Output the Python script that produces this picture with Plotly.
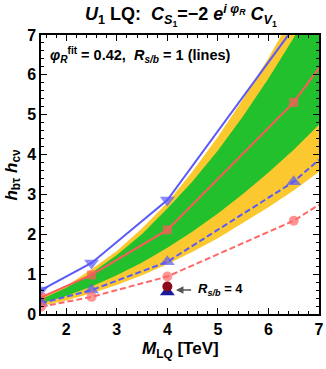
import plotly.graph_objects as go

# ---- data ----
M_band = [1.5, 2, 2.5, 3, 3.5, 4, 4.5, 5, 5.5, 6, 6.5, 7]
yellow_hi = [0.40, 0.70, 1.12, 1.58, 2.15, 2.80, 3.58, 4.45, 5.40, 6.42, 7.55, 8.75]
yellow_lo = [0.20, 0.34, 0.52, 0.73, 0.97, 1.25, 1.56, 1.90, 2.28, 2.68, 3.10, 3.57]
green_hi = [0.37, 0.66, 1.03, 1.48, 2.01, 2.65, 3.33, 4.10, 4.97, 5.91, 6.93, 8.04]
green_lo = [0.27, 0.45, 0.69, 0.97, 1.29, 1.66, 2.07, 2.52, 3.02, 3.55, 4.12, 4.75]

M_pts = [1.5, 2.5, 4, 6.5, 7]
blue_solid = [0.60, 1.28, 2.86, 7.20, 8.05]
red_solid = [0.42, 0.98, 2.11, 5.31, 6.17]
blue_dash = [0.27, 0.60, 1.31, 3.32, 3.87]
red_dash = [0.18, 0.43, 0.94, 2.34, 2.74]

M_rsb4 = [4]
red_rsb4 = [0.69]
blue_rsb4 = [0.55]

x_ticks = [2, 3, 4, 5, 6, 7]
y_ticks = [0, 1, 2, 3, 4, 5, 6, 7]

YELLOW = "#FCC830"
GREEN = "#22C02C"
BLUE = "#5A5AFA"
RED = "#FF5A5A"
PINK = "#FF6868"
FONT = "Liberation Sans"

fig = go.Figure()

def band(lo, hi, color):
    fig.add_trace(go.Scatter(x=M_band + M_band[::-1], y=hi + lo[::-1], fill="toself",
                             fillcolor=color, line=dict(width=0), mode="lines",
                             hoverinfo="skip", showlegend=False))

band(yellow_lo, yellow_hi, YELLOW)
band(green_lo, green_hi, GREEN)

def line(y, color, dash, symbol, size):
    fig.add_trace(go.Scatter(x=M_pts, y=y, mode="lines+markers",
                             line=dict(color=color, width=2, dash=dash),
                             marker=dict(symbol=symbol, size=[size if i < 4 else 0 for i in range(5)],
                                         color=color, line=dict(width=0)),
                             showlegend=False))

line(blue_solid, BLUE, "solid", "triangle-down", 13)
line(red_solid, RED, "solid", "square", 9)
line(blue_dash, BLUE, "6px,3px", "triangle-up", 13)
line(red_dash, PINK, "6px,3px", "circle", 10)

fig.add_trace(go.Scatter(x=M_rsb4, y=blue_rsb4, mode="markers",
                         marker=dict(symbol="triangle-up", size=13, color="#1A1AA0"), showlegend=False))
fig.add_trace(go.Scatter(x=M_rsb4, y=red_rsb4, mode="markers",
                         marker=dict(symbol="circle", size=10, color="#8B0A1A"), showlegend=False))

axis_common = dict(showgrid=False, zeroline=False, showline=True, linecolor="black", linewidth=1.5,
                   mirror="allticks", ticks="inside", ticklen=6, tickwidth=1, tickcolor="black",
                   automargin=False,
                   tickfont=dict(family=FONT, size=16, color="black"))

fig.update_xaxes(range=[1.5, 7.0001], tickvals=x_ticks, ticktext=[f"<b>{v}</b>" for v in x_ticks],
                 minor=dict(dtick=0.2, tick0=0, ticks="inside", ticklen=3, tickcolor="black"),
                 **axis_common)
fig.update_yaxes(range=[0, 7.0001], tickvals=y_ticks, ticktext=[f"<b>{v}</b>" for v in y_ticks],
                 minor=dict(dtick=0.2, tick0=0, ticks="inside", ticklen=3, tickcolor="black"),
                 **axis_common)

annotations = [
    dict(text="<b><i>M</i><sub>LQ</sub> [TeV]</b>", x=0.5, y=-0.128, xref="paper", yref="paper",
         showarrow=False, font=dict(family=FONT, size=17, color="black"), xanchor="center", yanchor="middle"),
    dict(text="<b><i>h</i><sub>bτ</sub> <i>h</i><sub>cν</sub></b>", x=-0.104, y=0.5, xref="paper", yref="paper",
         showarrow=False, textangle=-90, font=dict(family=FONT, size=17, color="black"),
         xanchor="center", yanchor="middle"),
    dict(text="<b><i>φ<sub>R</sub></i><sup>fit</sup> = 0.42,  <i>R<sub>s/b</sub></i> = 1 (lines)</b>",
         x=0.025, y=0.928, xref="paper", yref="paper", showarrow=False,
         font=dict(family=FONT, size=14.5, color="black"), xanchor="left", yanchor="middle"),
    dict(text="", x=4.17, y=0.605, ax=4.5, ay=0.605, xref="x", yref="y", axref="x", ayref="y",
         showarrow=True, arrowhead=2, arrowsize=1, arrowwidth=1.5, arrowcolor="#555555"),
    dict(text="<b><i>R<sub>s/b</sub></i> = 4</b>", x=4.57, y=0.605, xref="x", yref="y", showarrow=False,
         font=dict(family=FONT, size=13, color="black"), xanchor="left", yanchor="middle"),
]

fig.update_layout(
    width=326, height=369,
    margin=dict(l=41, r=7, t=35, b=55, autoexpand=False),
    paper_bgcolor="white", plot_bgcolor="white",
    title=dict(text="<b><i>U</i><sub>1</sub> LQ:  <i>C</i><sub><i>S</i><sub>1</sub></sub>=−2 <i>e</i><sup><i>i φ<sub>R</sub></i></sup> <i>C</i><sub><i>V</i><sub>1</sub></sub></b>",
               x=0.555, xanchor="center", y=1 - 14 / 369, yanchor="middle", yref="container",
               font=dict(family=FONT, size=18, color="black")),
    annotations=annotations,
)

fig.write_html("out.html", config={"displayModeBar": False},
               post_script="document.body.style.margin='0';")
